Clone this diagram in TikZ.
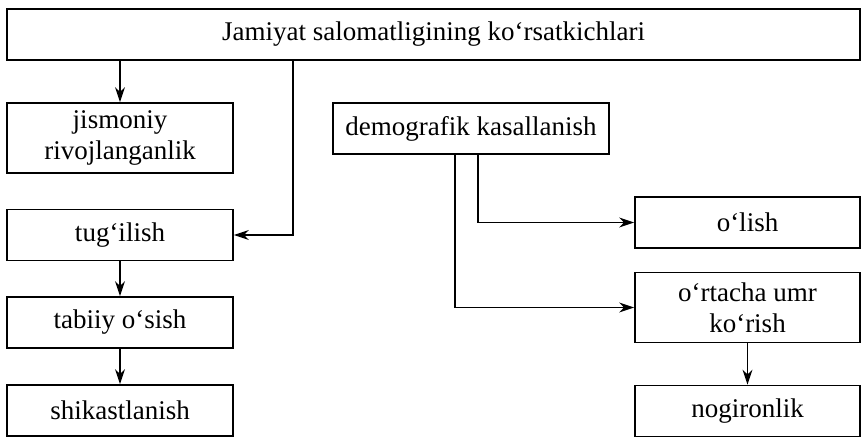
\documentclass[tikz,border=0pt]{standalone}
\usepackage{fontspec}
\setmainfont{Liberation Serif}
\usetikzlibrary{arrows.meta, positioning}
\tikzset{>={Stealth[length=7.5pt, width=5pt]}}

\begin{document}
\begin{tikzpicture}[x=0.5pt, y=-0.5pt,
		box/.style={draw, line width=0.9pt, inner sep=0pt, align=center,
			font=\fontsize{13.5}{15.5}\selectfont},
		leftbox/.style={box, minimum width=113pt, minimum height=25.5pt},
		rightbox/.style={box, minimum width=112.5pt, minimum height=25.5pt},
		link/.style={->, line width=0.6pt}]
	\useasboundingbox (0,0) rectangle (863,438);
	\node[box, minimum width=426.5pt, minimum height=25.5pt] (top) at (433.5,34.5) {Jamiyat salomatligining ko‘rsatkichlari};
	\node[leftbox, minimum height=35pt] (jis) at (120,138) {jismoniy\\rivojlanganlik};
	\node[box, minimum width=138pt, minimum height=25.5pt] (demo) at (471,128.5) {demografik kasallanish};
	\node[leftbox] (tug) at (120,235) {tug‘ilish};
	\node[leftbox] (tab) at (120,322.5) {tabiiy o‘sish};
	\node[leftbox] (shik) at (120,410.5) {shikastlanish};
	\node[rightbox] (olish) at (747.5,222.5) {o‘lish};
	\node[rightbox, minimum height=35pt] (umr) at (747.5,307.5) {o‘rtacha umr\\ko‘rish};
	\node[rightbox] (nogir) at (747.5,411) {nogironlik};
	\coordinate (tugturn) at (293,0);
	\coordinate (olishturn) at (478,0);
	\coordinate (umrturn) at (455,0);
	\draw[link] (jis.north |- top.south) -- (jis.north);
	\draw[link] (top.south -| tugturn) |- (tug.east);
	\draw[link] (tug) -- (tab);
	\draw[link] (tab) -- (shik);
	\draw[link] (demo.south -| olishturn) |- (olish.west);
	\draw[link] (demo.south -| umrturn) |- (umr.west);
	\draw[link] (umr) -- (nogir);
\end{tikzpicture}
\end{document}
